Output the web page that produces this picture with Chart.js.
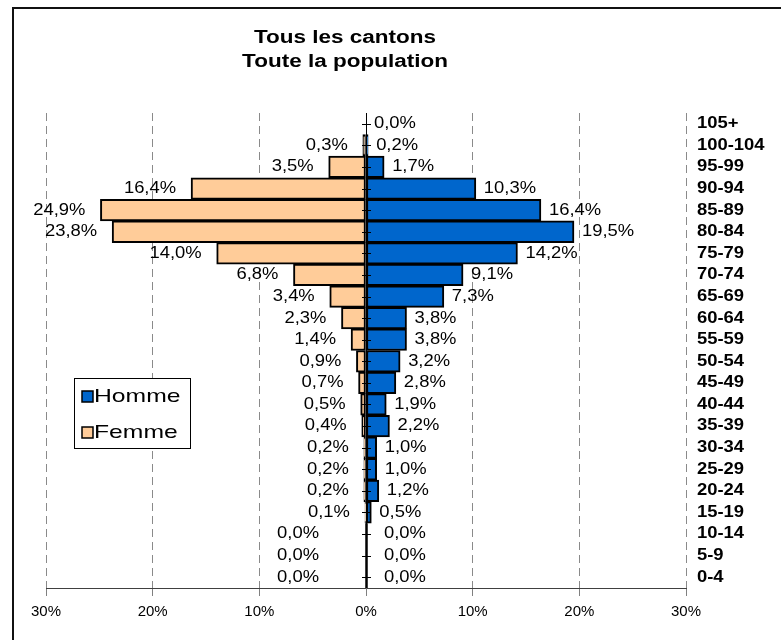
<!DOCTYPE html>
<html>
<head>
<meta charset="utf-8">
<script src="https://cdn.jsdelivr.net/npm/chart.js@4.4.1/dist/chart.umd.min.js"></script>
<style>
html, body { margin: 0; padding: 0; background: #fff; }
#wrap { position: relative; width: 781px; height: 640px; overflow: hidden; }
#wrap canvas { position: absolute; left: 0; top: 0; }
#frame { position: absolute; left: 12px; top: 7px; width: 900px; height: 800px;
         border-left: 2px solid #111; border-top: 2px solid #111; pointer-events: none; }
</style>
</head>
<body>
<div id="wrap">
  <canvas id="pyramide" width="781" height="640"></canvas>
  <div id="frame"></div>
</div>
<script>
// Donnees (en %)
const ageGroups = ['105+', '100-104', '95-99', '90-94', '85-89', '80-84', '75-79', '70-74',
    '65-69', '60-64', '55-59', '50-54', '45-49', '40-44', '35-39', '30-34', '25-29',
    '20-24', '15-19', '10-14', '5-9', '0-4'];
const homme = [0.0, 0.2, 1.7, 10.3, 16.4, 19.5, 14.2, 9.1, 7.3, 3.8, 3.8, 3.2, 2.8, 1.9,
    2.2, 1.0, 1.0, 1.2, 0.5, 0.0, 0.0, 0.0];
const femme = [0.0, 0.3, 3.5, 16.4, 24.9, 23.8, 14.0, 6.8, 3.4, 2.3, 1.4, 0.9, 0.7, 0.5,
    0.4, 0.2, 0.2, 0.2, 0.1, 0.0, 0.0, 0.0];
const xTicks = [-30, -20, -10, 0, 10, 20, 30];
const titleLines = ['Tous les cantons', 'Toute la population'];

const BLUE = '#0066CC';
const PEACH = '#FFCC99';
const FONT = "'Liberation Sans', Arial, sans-serif";
const SX = 1.15; // le texte de l'original est un peu etire

function pct(v) {
    return v.toFixed(1).replace('.', ',') + '%';
}

function stretchText(ctx, txt, x, y, align, sx) {
    ctx.save();
    ctx.translate(x, y);
    ctx.scale(sx, 1);
    ctx.textAlign = align;
    ctx.fillText(txt, 0, 0);
    ctx.restore();
}

const decor = {
    id: 'decor',
    afterDatasetsDraw(chart) {
        const ctx = chart.ctx;
        const xs = chart.scales.x;
        const ys = chart.scales.y;
        const area = chart.chartArea;
        const x0 = xs.getPixelForValue(0);

        // axe central
        ctx.save();
        ctx.strokeStyle = '#000';
        ctx.lineWidth = 1;
        ctx.beginPath();
        ctx.moveTo(x0 + 0.5, area.top);
        ctx.lineTo(x0 + 0.5, area.bottom);
        ageGroups.forEach((g, i) => {
            const y = Math.round(ys.getPixelForValue(i)) + 0.5;
            ctx.moveTo(x0 - 4, y);
            ctx.lineTo(x0 + 5, y);
        });
        ctx.stroke();

        // barres nulles : trait noir sur l'axe
        ctx.lineWidth = 2.5;
        ctx.beginPath();
        ageGroups.forEach((g, i) => {
            if (i > 0 && homme[i] === 0 && femme[i] === 0) {
                const h = ys.getPixelForValue(1) - ys.getPixelForValue(0);
                const y = ys.getPixelForValue(i);
                ctx.moveTo(x0 + 0.5, y - h / 2);
                ctx.lineTo(x0 + 0.5, y + h / 2);
            }
        });
        ctx.stroke();

        // etiquettes des barres
        ctx.fillStyle = '#000';
        ctx.textBaseline = 'middle';
        ctx.font = '16px ' + FONT;
        ageGroups.forEach((g, i) => {
            const y = ys.getPixelForValue(i);
            const hx = xs.getPixelForValue(homme[i]);
            const hOff = (homme[i] === 0 && i > 0) ? 18 : 8;
            stretchText(ctx, pct(homme[i]), hx + hOff, y, 'left', SX);
            if (i > 0) {
                const fx = xs.getPixelForValue(-femme[i]);
                stretchText(ctx, pct(femme[i]), fx - (femme[i] === 0 ? 47 : 15), y, 'right', SX);
            }
        });

        // classes d'age a droite
        ctx.font = 'bold 16px ' + FONT;
        ageGroups.forEach((g, i) => {
            stretchText(ctx, g, area.right + 11, ys.getPixelForValue(i), 'left', SX);
        });

        // titre
        ctx.font = 'bold 18px ' + FONT;
        titleLines.forEach((t, k) => {
            stretchText(ctx, t, 345, 38 + k * 24, 'center', 1.25);
        });

        // legende
        ctx.fillStyle = '#fff';
        ctx.fillRect(74.5, 378.5, 116, 70);
        ctx.strokeStyle = '#000';
        ctx.lineWidth = 1;
        ctx.strokeRect(74.5, 378.5, 116, 70);
        const items = [['Homme', BLUE], ['Femme', PEACH]];
        items.forEach(([name, col], k) => {
            const cy = 397 + k * 36;
            ctx.fillStyle = col;
            ctx.fillRect(82, cy - 6, 11, 11);
            ctx.lineWidth = 1.5;
            ctx.strokeStyle = '#000';
            ctx.strokeRect(82, cy - 6, 11, 11);
            ctx.fillStyle = '#000';
            ctx.font = '19px ' + FONT;
            ctx.textBaseline = 'middle';
            stretchText(ctx, name, 94, cy, 'left', 1.3);
        });
        ctx.restore();
    }
};

new Chart(document.getElementById('pyramide'), {
    type: 'bar',
    data: {
        labels: ageGroups,
        datasets: [{
            label: 'Homme',
            data: homme,
            backgroundColor: BLUE,
            borderColor: '#000',
            borderWidth: 2,
            borderSkipped: false,
            barPercentage: 1,
            categoryPercentage: 1
        }, {
            label: 'Femme',
            data: femme.map(v => -v),
            backgroundColor: PEACH,
            borderColor: '#000',
            borderWidth: 2,
            borderSkipped: false,
            barPercentage: 1,
            categoryPercentage: 1
        }]
    },
    options: {
        indexAxis: 'y',
        responsive: false,
        animation: false,
        devicePixelRatio: 1,
        layout: { padding: { left: 46, right: 95, top: 113, bottom: 0 } },
        plugins: {
            legend: { display: false },
            title: { display: false },
            tooltip: { enabled: false }
        },
        scales: {
            x: {
                stacked: true,
                min: -30,
                max: 30,
                afterBuildTicks: s => { s.ticks = xTicks.map(v => ({ value: v })); },
                afterFit: s => { s.height = 52; },
                ticks: {
                    callback: v => Math.abs(v) + '%',
                    color: '#000',
                    font: { family: FONT, size: 15 },
                    padding: 7,
                    maxRotation: 0
                },
                grid: {
                    color: c => (c.tick && c.tick.value === 0) ? 'rgba(0,0,0,0)' : '#8a8a8a',
                    lineWidth: 1,
                    tickColor: '#808080',
                    tickLength: 8
                },
                border: { display: true, color: '#404040', width: 1, dash: [8, 5] }
            },
            y: {
                stacked: true,
                display: false
            }
        }
    },
    plugins: [decor]
});
</script>
</body>
</html>
